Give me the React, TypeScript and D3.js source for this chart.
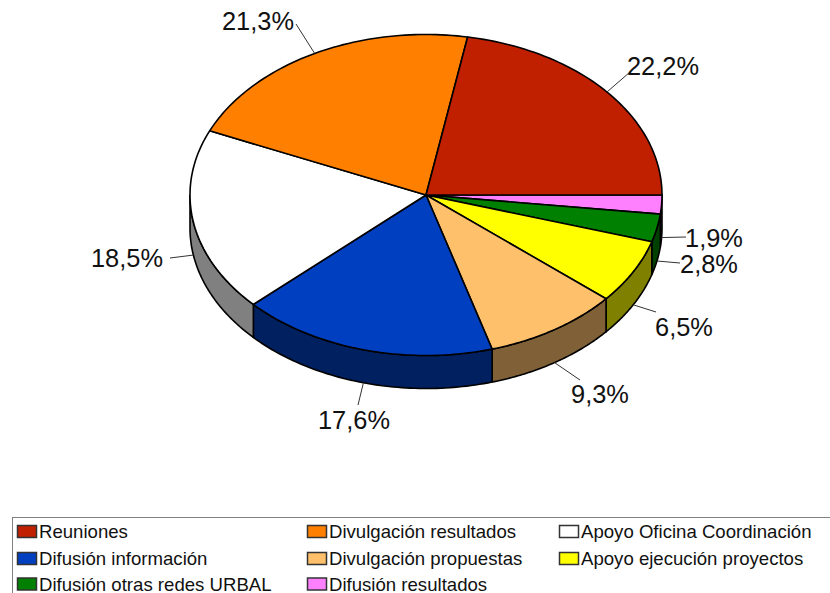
import React from "react";
import * as d3 from "d3";

const categories = ["Difusión resultados", "Difusión otras redes URBAL", "Apoyo ejecución proyectos", "Divulgación propuestas", "Difusión información", "Apoyo Oficina Coordinación", "Divulgación resultados", "Reuniones"];
const values = [1.9, 2.8, 6.5, 9.3, 17.6, 18.5, 21.3, 22.2];
const colors = ["#ff80ff", "#008000", "#ffff00", "#ffc06c", "#0040c0", "#ffffff", "#ff8000", "#c02000"];
const sideColors = ["#804080", "#004000", "#808000", "#806036", "#002060", "#808080", "#804000", "#601000"];
const labelTexts = ["1,9%", "2,8%", "6,5%", "9,3%", "17,6%", "18,5%", "21,3%", "22,2%"];
const labelAnchors: [number, number][] = [[714, 238], [709, 264], [684, 327], [600, 394], [354, 420], [127, 258], [258, 21], [663, 66]];
const leaderEnds: [number, number][] = [[686, 237], [680, 263], [656, 312], [580, 380], [358, 405], [170, 258], [296, 24], [630, 72]];
const legendOrder = ["Reuniones", "Divulgación resultados", "Apoyo Oficina Coordinación", "Difusión información", "Divulgación propuestas", "Apoyo ejecución proyectos", "Difusión otras redes URBAL", "Difusión resultados"];

const W = 830, H = 593;
const cx = 426, cy = 195, rx = 236, ry = 160.5, depth = 33;
const FONT = "'Liberation Sans', Arial, sans-serif";

const ex = d3.scaleLinear().domain([-1, 1]).range([cx - rx, cx + rx]);
const ey = d3.scaleLinear().domain([-1, 1]).range([cy - ry, cy + ry]);
const pt = (t: number, dy = 0): [number, number] => [ex(Math.cos(t)), ey(Math.sin(t)) + dy];

const pie = d3.pie<number>().sort(null).startAngle(0).endAngle(2 * Math.PI);
const arcs = pie(values);

const samples = (a: number, b: number) => d3.range(0, 61).map((i) => a + ((b - a) * i) / 60);
const line = d3.line();

function topPath(a: number, b: number) {
  return line([[cx, cy], ...samples(a, b).map((t) => pt(t))])! + "Z";
}
function sidePath(a: number, b: number) {
  const s = Math.max(a, 0), e = Math.min(b, Math.PI);
  if (e <= s) return null;
  const ts = samples(s, e);
  return line([...ts.map((t) => pt(t)), ...ts.slice().reverse().map((t) => pt(t, depth))])! + "Z";
}

const legendCols = [17, 307, 559];
const legendRows = [531.5, 558.5, 584];

export default function App() {
  return (
    <svg width={W} height={H} style={{ position: "absolute", left: 0, top: 0, background: "#fff" }}>
      {arcs.map((d, i) => {
        const p = sidePath(d.startAngle, d.endAngle);
        return p ? <path key={i} d={p} fill={sideColors[i]} stroke="#000" strokeWidth={1.6} strokeLinejoin="round" /> : null;
      })}
      {arcs.map((d, i) => (
        <path key={i} d={topPath(d.startAngle, d.endAngle)} fill={colors[i]} stroke="#000" strokeWidth={1.6} strokeLinejoin="round" />
      ))}
      {arcs.map((d, i) => {
        const mid = (d.startAngle + d.endAngle) / 2;
        const visibleSide = Math.sin(mid) > 0;
        const [x, y] = pt(mid, visibleSide ? depth : 0);
        return <line key={i} x1={x} y1={y} x2={leaderEnds[i][0]} y2={leaderEnds[i][1]} stroke="#333" strokeWidth={1} />;
      })}
      {labelTexts.map((t, i) => (
        <text key={i} x={labelAnchors[i][0]} y={labelAnchors[i][1]} textAnchor="middle" dominantBaseline="central" fontFamily={FONT} fontSize={25.4} fill="#111">{t}</text>
      ))}
      <rect x={12.5} y={517.5} width={830} height={90} fill="none" stroke="#808080" strokeWidth={1} />
      {legendOrder.map((name, i) => {
        const k = categories.indexOf(name);
        const x = legendCols[i % 3], y = legendRows[Math.floor(i / 3)];
        return (
          <g key={name}>
            <rect x={x + 0.5} y={y - 6} width={19} height={12} fill={colors[k]} stroke="#333" strokeWidth={1.5} />
            <text x={x + 22} y={y} dominantBaseline="central" fontFamily={FONT} fontSize={18.6} fill="#111">{name}</text>
          </g>
        );
      })}
    </svg>
  );
}
